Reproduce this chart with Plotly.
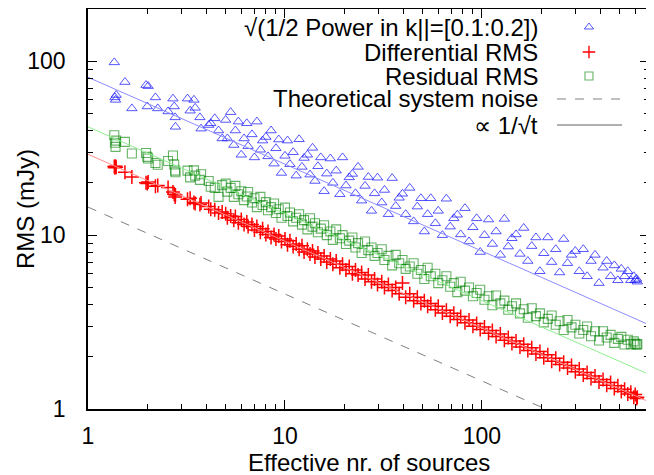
import numpy as np
import plotly.graph_objects as go

# ---------------- data ----------------
n_sources = [
    1.36, 1.37, 1.38, 1.39, 1.54, 1.67, 1.97, 2.0, 2.02, 2.2, 2.26, 2.55, 2.7, 2.74, 2.77, 2.78,
    3.2, 3.3, 3.45, 3.5, 3.7, 3.75, 4.1, 4.2, 4.4, 4.6, 4.8,
    5.0, 5.1, 5.3, 5.5, 5.6, 5.8, 6.0, 6.2, 6.4, 6.5, 6.8, 7.0, 7.2, 7.5, 7.7, 8.0, 8.2, 8.5, 8.8,
    9.0, 9.3, 9.6, 10.0, 10.3, 10.6, 11.0, 11.4, 11.8, 12.2, 12.5, 13.0, 13.4, 13.8, 14.2, 14.7,
    15.2, 15.8, 16.3, 17.0, 17.5, 18.2, 19.0, 19.6, 20.4, 21.2, 22.0, 22.8, 23.5, 24.5, 25.5,
    26.5, 27.5, 28.5, 29.5, 31, 32, 33.5, 35, 36.5, 38, 39.5, 41, 43, 45, 47, 49, 51, 53, 55,
    58, 60, 63, 66, 69, 72, 75, 78, 82, 86, 90, 94, 98, 103, 108, 113, 118, 124, 130, 136, 142,
    149, 156, 163, 171, 179, 188, 197, 206, 216, 226, 237, 248, 260, 272, 285, 298, 312, 327,
    342, 358, 375, 393, 412, 430, 450, 470, 490, 510, 530, 550, 570, 590, 600, 610, 615,
]

power_rms = [
    98.6, 62, 60, 64, 76, 53.6, 73, 55, 72, 62, 53.6, 51.5, 61, 55, 47.6, 42,
    61, 52, 60, 54, 47.6, 41, 43, 44, 47, 40, 36,
    46, 36, 51, 33, 40, 45, 29, 36, 44, 32.5, 38, 28, 45, 31, 35, 36.7, 28.4, 40, 25.8,
    31.6, 35.5, 22.8, 28.6, 35, 25.6, 30, 22, 35.6, 24.7, 27.8, 29, 22.3, 31.8, 20.5, 24.9,
    28, 17.9, 22.6, 27.6, 20, 23.5, 17.2, 28, 19.3, 21.5, 22.5, 17.4, 24.7, 15.8, 19.2,
    21.6, 13.8, 17.4, 21.4, 15.4, 18.2, 13.2, 21.3, 14.7, 16.4, 17.3, 13.2, 18.7, 12.0, 14.6, 16.3, 10.5, 13.2, 16.3,
    11.7, 13.8, 10.0, 16.2, 11.2, 12.5, 13.1, 10.1, 14.3, 9.2, 11.1, 12.5, 8.0, 10.0, 12.3, 8.9, 10.5, 7.7, 12.4, 8.6, 9.6,
    10.1, 7.8, 11.0, 7.1, 8.65, 9.7, 6.2, 7.87, 9.7, 7.0, 8.3, 6.1, 9.5, 6.9, 7.7, 8.1, 6.2, 8.3,
    5.8, 7.1, 7.7, 5.3, 6.5, 7.1, 5.8, 6.7, 5.5, 6.4, 5.8, 6.2, 5.5, 5.8, 5.5, 5.6, 5.4,
]

differential_rms = [
    24.8, 24.4, 24.9, 24.6, 23.0, 21.6, 20.0, 19.8, 20.2, 19.1, 19.3, 18.8, 17.7, 17.2, 16.6, 17.0,
    16.1, 16.3, 15.4, 15.2, 15.0, 15.3, 14.6, 14.1, 14.0, 13.4, 13.6,
    13.3, 12.6, 12.9, 12.2, 12.8, 11.8, 12.3, 11.5, 11.9, 11.2, 11.5, 10.7, 11.2, 10.4, 10.9, 10.1, 10.5, 9.7, 10.1,
    9.5, 9.9, 9.2, 9.5, 8.8, 9.3, 8.6, 8.9, 8.3, 8.7, 8.0, 8.3, 7.8, 8.1, 7.5, 7.9,
    7.3, 7.6, 7.0, 7.3, 6.8, 7.1, 6.5, 6.8, 6.3, 6.6, 6.0, 6.3, 5.9, 6.1, 5.6,
    5.9, 5.4, 5.6, 5.2, 5.4, 5.0, 5.2, 4.8, 5.0, 4.6, 5.3, 4.4, 4.6, 4.2, 4.4, 4.05, 4.2, 3.9, 4.05,
    3.72, 3.9, 3.57, 3.7, 3.42, 3.55, 3.27, 3.41, 3.13, 3.25, 2.99, 3.1, 2.87, 2.96, 2.73, 2.83, 2.61, 2.7, 2.49, 2.58, 2.38,
    2.46, 2.27, 2.36, 2.17, 2.25, 2.07, 2.14, 1.97, 2.05, 1.88, 1.96, 1.80, 1.86, 1.72, 1.78, 1.64, 1.70, 1.57,
    1.62, 1.50, 1.55, 1.43, 1.48, 1.37, 1.42, 1.31, 1.36, 1.26, 1.30, 1.22, 1.25, 1.17, 1.21, 1.15, 1.17,
]

residual_rms = [
    37.6, 34.0, 32.2, 35.0, 34.4, 29.5, 29.7, 28.2, 27.6, 26.0, 25.4, 26.7, 28.7, 25.5, 23.5, 23.0,
    23.5, 21.5, 23.6, 22.0, 20.8, 22.4, 20.5, 19.0, 18.7, 16.6, 19.4,
    19.8, 17.8, 18.7, 16.6, 19.2, 17.2, 17.9, 15.9, 16.7, 17.7, 15.4, 16.3, 14.5, 16.6, 14.9, 15.5, 13.9, 14.5, 15.2,
    13.4, 14.1, 12.6, 14.4, 12.9, 13.5, 12.0, 12.6, 13.2, 11.5, 12.2, 10.8, 12.5, 11.2, 11.7, 10.4,
    10.9, 11.4, 10.0, 10.5, 9.4, 10.8, 9.6, 10.0, 8.9, 9.3, 9.7, 8.5, 9.0, 7.9, 9.2,
    8.2, 8.5, 7.6, 7.9, 8.3, 7.2, 7.6, 6.7, 7.7, 6.9, 7.2, 6.4, 6.6, 6.9, 6.0, 6.3, 5.6, 6.5, 5.8,
    6.0, 5.3, 5.5, 5.8, 5.05, 5.3, 4.7, 5.4, 4.8, 5.0, 4.45, 4.65, 4.85, 4.25, 4.45, 3.95, 4.5, 4.05, 4.2, 3.72, 3.9,
    4.05, 3.55, 3.75, 3.35, 3.8, 3.42, 3.55, 3.15, 3.3, 3.45, 3.05, 3.2, 2.85, 3.25, 2.95, 3.05, 2.72, 2.85,
    2.98, 2.62, 2.8, 2.48, 2.8, 2.58, 2.67, 2.4, 2.53, 2.6, 2.35, 2.5, 2.36, 2.45, 2.38, 2.34, 2.36,
]

# amplitudes of the 1/sqrt(t) reference lines (mJy at one source)
amp_power = 81.0
amp_residual = 42.0
amp_differential = 29.2
amp_noise = 14.5

x_range = [1, 705]
y_range = [1, 200]

legend_labels = [
    "√(1/2 Power in k||=[0.1:0.2])",
    "Differential RMS",
    "Residual RMS",
    "Theoretical system noise",
    "∝ 1/√t",
]

# ---------------- figure ----------------
FONT = "Liberation Sans, Arial, Helvetica, sans-serif"
TXT = 24
TICK = 23
fig = go.Figure()

xl = np.logspace(np.log10(x_range[0]), np.log10(x_range[1]), 200)

fig.add_trace(go.Scatter(x=n_sources, y=power_rms, mode="markers",
                         marker=dict(symbol="triangle-up-open", size=9,
                                     color="rgba(30,30,255,0.75)", line=dict(width=1))))
fig.add_trace(go.Scatter(x=n_sources, y=residual_rms, mode="markers",
                         marker=dict(symbol="square-open", size=9,
                                     color="rgba(0,130,0,0.6)", line=dict(width=1.1))))
fig.add_trace(go.Scatter(x=n_sources, y=differential_rms, mode="markers",
                         marker=dict(symbol="cross-thin", size=10,
                                     color="#ff0000", line=dict(width=1.5, color="#ff0000"))))

for amp, col, dash in [(amp_power, "#8c8cff", "solid"),
                       (amp_residual, "#8fef8f", "solid"),
                       (amp_differential, "#ff8c8c", "solid"),
                       (amp_noise, "#808080", "dash")]:
    fig.add_trace(go.Scatter(x=xl, y=amp / np.sqrt(xl), mode="lines",
                             line=dict(color=col, width=1, dash=dash)))

# ---- gnuplot-style key (text on left, sample on right) ----
key_y = [0.955, 0.8925, 0.8325, 0.775, 0.71]
key_text_x = 0.806
key_mark_x = 0.893
key_line_x = [0.836, 0.952]
for lab, ky in zip(legend_labels, key_y):
    fig.add_annotation(x=key_text_x, y=ky, xref="paper", yref="paper", text=lab,
                       showarrow=False, xanchor="right", yanchor="middle",
                       font=dict(size=TXT, color="black", family=FONT))
fig.add_trace(go.Scatter(x=[key_mark_x], y=[key_y[0]], xaxis="x2", yaxis="y2", mode="markers",
                         marker=dict(symbol="triangle-up-open", size=8, color="rgba(30,30,255,0.75)",
                                     line=dict(width=1))))
fig.add_trace(go.Scatter(x=[key_mark_x], y=[key_y[1]], xaxis="x2", yaxis="y2", mode="markers",
                         marker=dict(symbol="cross-thin", size=9, color="#ff0000",
                                     line=dict(width=1.4, color="#ff0000"))))
fig.add_trace(go.Scatter(x=[key_mark_x], y=[key_y[2]], xaxis="x2", yaxis="y2", mode="markers",
                         marker=dict(symbol="square-open", size=8, color="rgba(0,130,0,0.6)",
                                     line=dict(width=1.1))))
fig.add_trace(go.Scatter(x=key_line_x, y=[key_y[3]] * 2, xaxis="x2", yaxis="y2", mode="lines",
                         line=dict(color="#808080", width=1, dash="dash")))
fig.add_trace(go.Scatter(x=key_line_x, y=[key_y[4]] * 2, xaxis="x2", yaxis="y2", mode="lines",
                         line=dict(color="#606060", width=1)))

axis_common = dict(type="log", showgrid=False, zeroline=False, showline=True, linecolor="black",
                   linewidth=1.5, mirror="ticks", ticks="inside", ticklen=9, tickwidth=1,
                   tickcolor="black", dtick=1, automargin=False,
                   tickfont=dict(size=TICK, color="black", family=FONT),
                   minor=dict(ticks="inside", ticklen=5, tickwidth=1, tickcolor="black",
                              showgrid=False))

# the page body adds an 8 px offset, so the figure is laid out in shifted coordinates
fig.update_layout(
    width=646, height=467,
    margin=dict(l=80, r=5, t=1, b=66, autoexpand=False),
    paper_bgcolor="white", plot_bgcolor="white",
    showlegend=False,
    font=dict(family=FONT, color="black"),
    xaxis=dict(range=[np.log10(x_range[0]), np.log10(x_range[1])], ticklabelstandoff=6,
               **axis_common),
    yaxis=dict(range=[np.log10(y_range[0]), np.log10(y_range[1])], ticklabelstandoff=16,
               **axis_common),
    xaxis2=dict(overlaying="x", range=[0, 1], visible=False, fixedrange=True),
    yaxis2=dict(overlaying="y", range=[0, 1], visible=False, fixedrange=True),
)

fig.add_annotation(x=0.5, y=(409 - 462) / 400.0, xref="paper", yref="paper",
                   text="Effective nr. of sources",
                   showarrow=False, xanchor="center", yanchor="middle",
                   font=dict(size=TXT, color="black", family=FONT))
fig.add_annotation(x=(25 - 88) / 561.0, y=0.5, xref="paper", yref="paper", text="RMS (mJy)",
                   showarrow=False, xanchor="center", yanchor="middle", textangle=-90,
                   font=dict(size=TXT, color="black", family=FONT))

fig.write_html("out.html")
